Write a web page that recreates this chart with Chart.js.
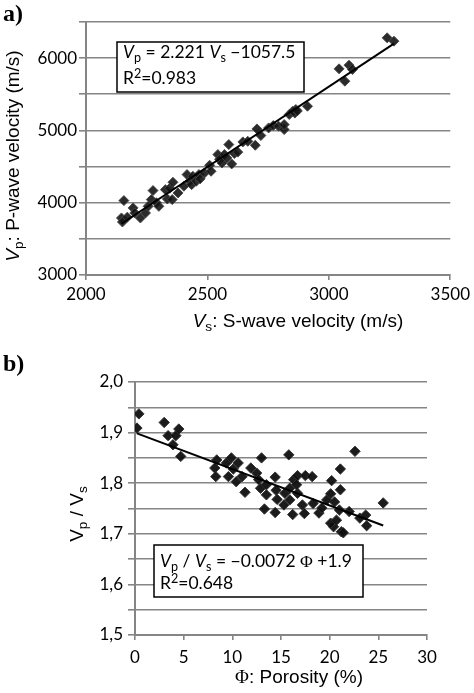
<!DOCTYPE html>
<html>
<head>
<meta charset="utf-8">
<script src="https://cdn.jsdelivr.net/npm/chart.js@4.4.1/dist/chart.umd.min.js"></script>
<style>
  body { margin: 0; background: #fff; }
  canvas { position: absolute; left: 0; }
  #chartA { top: 0; }
  #chartB { top: 340px; }
</style>
</head>
<body>
<canvas id="chartA" width="474" height="340"></canvas>
<canvas id="chartB" width="474" height="353"></canvas>
<script>
// a) P-wave vs S-wave velocity (m/s)
var vsValues = [2156, 2146, 2150, 2170, 2194, 2201, 2224, 2245, 2256, 2276, 2269, 2290, 2300, 2327, 2335,
  2345, 2358, 2355, 2379, 2403, 2416, 2427, 2435, 2440, 2454, 2465, 2470, 2488, 2509, 2515, 2543, 2550,
  2560, 2570, 2580, 2588, 2600, 2611, 2625, 2646, 2666, 2697, 2704, 2720, 2752, 2771, 2793, 2816, 2816,
  2837, 2851, 2860, 2864, 2870, 2912, 3042, 3066, 3083, 3097, 3240, 3268];
var vpValues = [4029, 3789, 3734, 3800, 3928, 3858, 3789, 3858, 3950, 4168, 4043, 4000, 3950, 4181, 4052,
  4200, 4283, 4043, 4135, 4228, 4389, 4297, 4250, 4366, 4297, 4389, 4330, 4412, 4518, 4435, 4666, 4600,
  4551, 4666, 4620, 4804, 4537, 4680, 4700, 4841, 4850, 4795, 5021, 4929, 5035, 5067, 5058, 5012, 5081,
  5220, 5266, 5240, 5289, 5270, 5335, 5852, 5681, 5903, 5843, 6281, 6235];
var vpSlope = 2.221, vpIntercept = -1057.5;
var vsTicks = [2000, 2500, 3000, 3500];
var vpTicks = [3000, 4000, 5000, 6000];

// b) Vp/Vs vs porosity (%)
var porosity = [0.4, 0.2, 3.0, 3.4, 3.9, 4.2, 4.5, 4.7, 8.4, 8.2, 8.3, 9.4, 9.6, 9.9, 10.1, 10.6, 10.4,
  11.0, 11.3, 11.9, 12.5, 13.0, 12.7, 12.9, 13.3, 13.5, 13.5, 14.4, 14.5, 14.4, 14.6, 15.3, 15.8, 15.4,
  15.9, 15.9, 16.2, 16.3, 16.7, 16.7, 16.6, 17.2, 17.4, 17.5, 18.2, 18.3, 18.9, 19.2, 19.7, 20.2, 20.1,
  20.4, 20.1, 20.5, 20.7, 21.1, 21.0, 21.1, 21.2, 21.4, 22.0, 22.6, 23.1, 23.7, 23.8, 25.5];
var vpvsRatio = [1.937, 1.909, 1.920, 1.894, 1.876, 1.894, 1.907, 1.853, 1.846, 1.830, 1.813, 1.840, 1.813,
  1.850, 1.828, 1.840, 1.803, 1.813, 1.782, 1.830, 1.820, 1.850, 1.807, 1.790, 1.749, 1.797, 1.777, 1.812,
  1.786, 1.742, 1.768, 1.757, 1.856, 1.780, 1.767, 1.790, 1.738, 1.807, 1.815, 1.780, 1.797, 1.757, 1.740,
  1.815, 1.813, 1.760, 1.741, 1.751, 1.767, 1.805, 1.779, 1.714, 1.721, 1.763, 1.727, 1.787, 1.747, 1.828,
  1.704, 1.702, 1.744, 1.863, 1.731, 1.737, 1.716, 1.761];
var ratioSlope = -0.0072, ratioIntercept = 1.9;
var porosityTicks = [0, 5, 10, 15, 20, 25, 30];
var ratioTicks = [1.5, 1.6, 1.7, 1.8, 1.9, 2.0];

var GRID = '#858585';

function toPoints(xs, ys) {
  return xs.map(function (x, i) { return { x: x, y: ys[i] }; });
}
function fitLine(xs, m, b) {
  var lo = Math.min.apply(null, xs), hi = Math.max.apply(null, xs);
  return [{ x: lo, y: m * lo + b }, { x: hi, y: m * hi + b }];
}

// draws text made of parts (italic, sub, sup, serif)
function richText(ctx, parts, x, y, size, family, align) {
  var items = parts.map(function (p) {
    var s = (p.sub || p.sup) ? size * 0.72 : size;
    var f = (p.it ? 'italic ' : '') + s.toFixed(1) + 'px ' + (p.serif ? '"Liberation Serif"' : family);
    ctx.font = f;
    return { t: p.t, f: f, w: ctx.measureText(p.t).width, dy: p.sub ? size * 0.22 : (p.sup ? -size * 0.34 : 0) };
  });
  var total = items.reduce(function (a, it) { return a + it.w; }, 0);
  var cx = align === 'center' ? x - total / 2 : x;
  ctx.textAlign = 'left';
  ctx.textBaseline = 'alphabetic';
  items.forEach(function (it) { ctx.font = it.f; ctx.fillText(it.t, cx, y + it.dy); cx += it.w; });
}

var annotate = {
  id: 'annotate',
  afterDraw: function (chart, args, o) {
    var ctx = chart.ctx, a = chart.chartArea;
    ctx.save();
    ctx.fillStyle = '#000';
    ctx.textAlign = 'left';
    ctx.textBaseline = 'alphabetic';
    ctx.font = 'bold 24px "Liberation Serif"';
    ctx.fillText(o.letter, 3, o.letterY);

    richText(ctx, o.xTitle, a.left + o.xTitleX, o.xTitleY, o.titleSize, '"Liberation Sans"', 'center');
    ctx.save();
    ctx.translate(o.yTitleX, a.top + o.yTitleY);
    ctx.rotate(-Math.PI / 2);
    richText(ctx, o.yTitle, 0, 0, o.yTitleSize, '"Liberation Sans"', 'center');
    ctx.restore();

    var b = o.box;
    ctx.fillStyle = '#fff';
    ctx.fillRect(a.left + b.x, a.top + b.y, b.w, b.h);
    ctx.strokeStyle = '#000';
    ctx.lineWidth = 1.5;
    ctx.strokeRect(a.left + b.x, a.top + b.y, b.w, b.h);
    ctx.fillStyle = '#000';
    o.lines.forEach(function (ln) {
      richText(ctx, ln.parts, a.left + b.x + b.tx, a.top + b.y + ln.y, o.eqSize, 'Lato', 'left');
    });
    ctx.restore();
  }
};

function axes(xMin, xMax, xStep, yMin, yMax, yStep, yLabel, yWidth, xHeight, xPad, yPad) {
  return {
    x: {
      type: 'linear', min: xMin, max: xMax,
      afterFit: function (s) { s.height = xHeight; },
      ticks: { stepSize: xStep, color: '#000', padding: xPad, font: { family: 'Lato', size: 17 },
        callback: function (v) { return String(v); } },
      grid: { drawOnChartArea: false, color: GRID, lineWidth: 1.6, tickLength: 5 },
      border: { color: GRID, width: 2 }
    },
    y: {
      min: yMin, max: yMax,
      afterFit: function (s) { s.width = yWidth; },
      ticks: { stepSize: yStep, autoSkip: false, color: '#000', padding: yPad,
        font: { family: 'Lato', size: 17 }, callback: yLabel },
      grid: { color: GRID, lineWidth: 1.6, tickLength: 7 },
      border: { color: GRID, width: 2 }
    }
  };
}

new Chart(document.getElementById('chartA').getContext('2d'), {
  type: 'scatter',
  data: {
    datasets: [{
      type: 'line',
      data: fitLine(vsValues, vpSlope, vpIntercept),
      borderColor: '#000', borderWidth: 2, pointRadius: 0, fill: false
    }, {
      data: toPoints(vsValues, vpValues),
      pointStyle: 'rectRot', pointRadius: 5,
      backgroundColor: 'rgba(20,20,20,0.9)', borderColor: 'rgba(70,70,70,0.9)', borderWidth: 1
    }]
  },
  options: {
    responsive: false,
    animation: false,
    layout: { padding: { top: 22, right: 22, left: 0, bottom: 0 } },
    scales: axes(vsTicks[0], vsTicks[vsTicks.length - 1], 500, vpTicks[0], 6500, 500,
      function (v) { return vpTicks.indexOf(v) >= 0 ? String(v) : ''; }, 86, 65, 4, 2),
    plugins: {
      legend: { display: false },
      tooltip: { enabled: false },
      annotate: {
        letter: 'a)', letterY: 21,
        titleSize: 19, yTitleSize: 19, eqSize: 17.5,
        xTitle: [{ t: 'V', it: 1 }, { t: 's', sub: 1 }, { t: ': S-wave velocity (m/s)' }],
        xTitleX: 212, xTitleY: 327,
        yTitle: [{ t: 'V', it: 1 }, { t: 'p', sub: 1 }, { t: ': P-wave velocity (m/s)' }],
        yTitleX: 19, yTitleY: 134,
        box: { x: 31, y: 20, w: 187, h: 50, tx: 6 },
        lines: [
          { y: 16, parts: [{ t: 'V', it: 1 }, { t: 'p', sub: 1 }, { t: ' = 2.221 ' }, { t: 'V', it: 1 }, { t: 's', sub: 1 }, { t: ' \u22121057.5' }] },
          { y: 42, parts: [{ t: 'R' }, { t: '2', sup: 1 }, { t: '=0.983' }] }
        ]
      }
    }
  },
  plugins: [annotate]
});

new Chart(document.getElementById('chartB').getContext('2d'), {
  type: 'scatter',
  data: {
    datasets: [{
      type: 'line',
      data: fitLine(porosity, ratioSlope, ratioIntercept),
      borderColor: '#000', borderWidth: 2, pointRadius: 0, fill: false
    }, {
      data: toPoints(porosity, vpvsRatio),
      pointStyle: 'rectRot', pointRadius: 5.2,
      backgroundColor: 'rgba(15,15,15,0.95)', borderColor: 'rgba(50,50,50,0.95)', borderWidth: 1
    }]
  },
  options: {
    responsive: false,
    animation: false,
    layout: { padding: { top: 42, right: 47, left: 0, bottom: 0 } },
    scales: axes(porosityTicks[0], porosityTicks[porosityTicks.length - 1], 5,
      ratioTicks[0], ratioTicks[ratioTicks.length - 1], 0.05,
      function (v) { return Math.round(v * 100) % 10 === 0 ? v.toFixed(1).replace('.', ',') : ''; },
      135, 58, 7, 5),
    plugins: {
      legend: { display: false },
      tooltip: { enabled: false },
      annotate: {
        letter: 'b)', letterY: 31,
        titleSize: 19, yTitleSize: 19, eqSize: 17.5,
        xTitle: [{ t: '\u03A6', serif: 1 }, { t: ': Porosity (%)' }],
        xTitleX: 164, xTitleY: 343,
        yTitle: [{ t: 'V' }, { t: 'p', sub: 1 }, { t: ' / ' }, { t: 'V' }, { t: 's', sub: 1 }],
        yTitleX: 83, yTitleY: 132,
        box: { x: 19, y: 163, w: 209, h: 52, tx: 6 },
        lines: [
          { y: 22, parts: [{ t: 'V', it: 1 }, { t: 'p', sub: 1 }, { t: ' / ' }, { t: 'V', it: 1 }, { t: 's', sub: 1 }, { t: ' = \u22120.0072 ' }, { t: '\u03A6', serif: 1 }, { t: ' +1.9' }] },
          { y: 44, parts: [{ t: 'R' }, { t: '2', sup: 1 }, { t: '=0.648' }] }
        ]
      }
    }
  },
  plugins: [annotate]
});
</script>
</body>
</html>
